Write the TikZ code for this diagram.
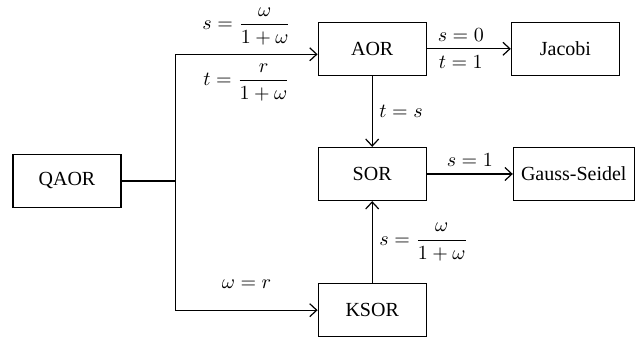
\documentclass[tikz,border=0pt]{standalone}
\usepackage{amsmath}
\usepackage{fontspec}
\setmainfont{Liberation Serif}
\usetikzlibrary{arrows.meta,positioning}

\begin{document}
\begin{tikzpicture}[
    line width=0.6pt,
    box/.style={rectangle, draw, minimum width=54pt, minimum height=26.5pt,
                align=center, inner sep=3.8pt},
    arr/.style={-{Straight Barb[length=3.5pt,width=6.5pt]}},
]
    \useasboundingbox (-33.5pt,-80pt) rectangle (285.5pt,90.5pt);

    \node[box] (qaor) {QAOR};
    \node[box, above right=39pt and 98pt of qaor] (aor) {AOR};
    \node[box, right=42pt of aor] (jacobi) {Jacobi};
    \node[box, below=35.5pt of aor] (sor) {SOR};
    \node[box, right=43pt of sor] (gs) {Gauss-Seidel};
    \node[box, below=41pt of sor] (ksor) {KSOR};

    \coordinate[right=27pt of qaor] (split);

    \draw (qaor) -- (split);
    \draw[arr] (split) |- ([yshift=-2.75pt]aor.west)
        node[pos=0.75, above=1pt] {$s = \dfrac{\omega}{1+\omega}$}
        node[pos=0.75, below=1pt] {$t = \dfrac{r}{1+\omega}$};
    \draw[arr] (split) |- (ksor)
        node[pos=0.75, above=7pt] {$\omega = r$};
    \draw[arr] (aor) -- node[above, xshift=-4pt] {$s = 0$}
        node[below, xshift=-4pt] {$t = 1$} (jacobi);
    \draw[arr] (aor) -- node[right] {$t = s$} (sor);
    \draw[arr] (sor) -- node[above] {$s = 1$} (gs);
    \draw[arr] (ksor) -- node[right] {$s = \dfrac{\omega}{1+\omega}$} (sor);
\end{tikzpicture}
\end{document}
